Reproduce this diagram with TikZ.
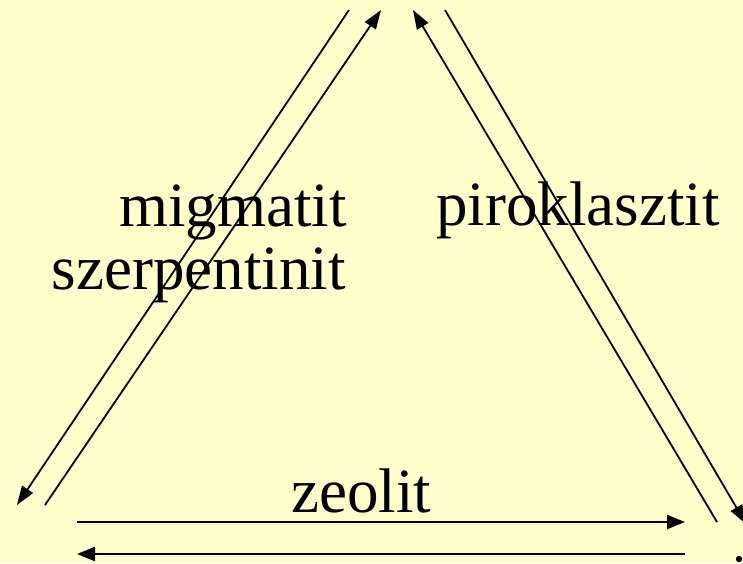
\documentclass[tikz,border=0pt]{standalone}
\usepackage{fontspec}
\setmainfont{Liberation Serif}
\usetikzlibrary{arrows.meta}
\definecolor{bg}{HTML}{FFFFCC}
\begin{document}
\begin{tikzpicture}[x=1pt,y=-1pt,
  conn/.style={line width=1.8pt,-{Triangle[length=19pt,width=13pt]}},
  hconn/.style={line width=2.4pt,-{Triangle[length=18pt,width=14pt]}},
  lbl/.style={inner sep=0pt,font=\fontsize{63}{70}\selectfont}]
\fill[bg] (0,0) rectangle (743,563);
\useasboundingbox (0,0) rectangle (743,563);
% endpoints
\coordinate (a1) at (349,10);  \coordinate (a2) at (17,505);
\coordinate (b1) at (45,505);  \coordinate (b2) at (381,10);
\coordinate (c1) at (717,522); \coordinate (c2) at (413,10);
\coordinate (d1) at (445,10);  \coordinate (d2) at (746,524);
\coordinate (e1) at (77,522);  \coordinate (e2) at (685,522);
\coordinate (f1) at (685,554); \coordinate (f2) at (77,554);
\draw[conn] (a1) -- (a2);
\draw[conn] (b1) -- (b2);
\draw[conn] (c1) -- (c2);
\draw[conn] (d1) -- (d2);
\draw[hconn] (e1) -- (e2);
\draw[hconn] (f1) -- (f2);
\fill (739,559) circle (3.2pt);
\node[lbl,anchor=base east] (mig) at (347,226) {migmatit};
\node[lbl,anchor=base east] (sze) at (346,289) {szerpentinit};
\node[lbl,anchor=base west] (pir) at (436,225) {piroklasztit};
\node[lbl,anchor=base west] (zeo) at (291,512) {zeolit};
\end{tikzpicture}
\end{document}
